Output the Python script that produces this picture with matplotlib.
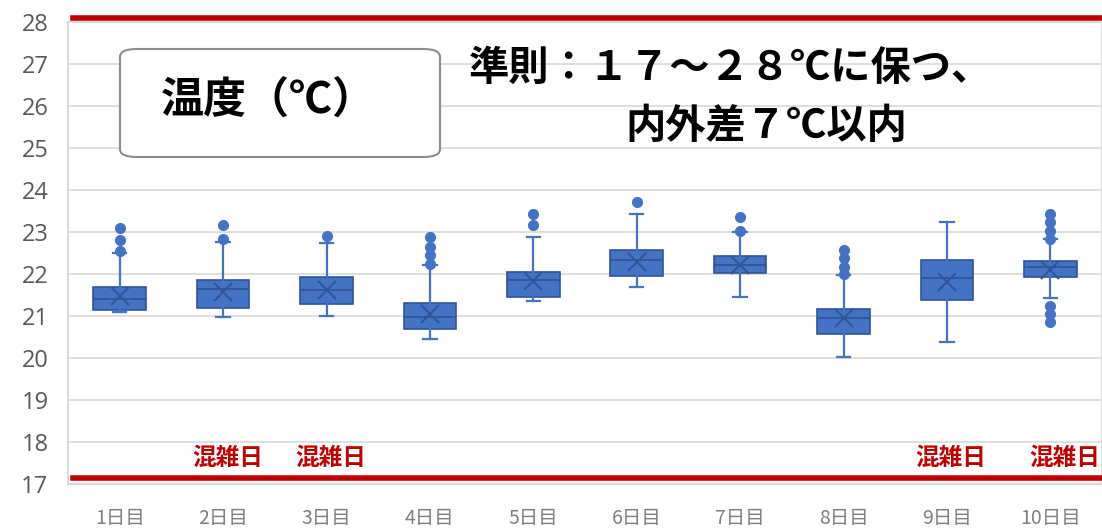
import matplotlib
matplotlib.use('Agg')
import matplotlib.pyplot as plt
from matplotlib.patches import FancyBboxPatch

plt.rcParams['font.family'] = ['Noto Sans CJK JP', 'DejaVu Sans']

# 日別の温度分布
days = ['1日目', '2日目', '3日目', '4日目', '5日目', '6日目', '7日目', '8日目', '9日目', '10日目']
q1 = [21.14, 21.20, 21.29, 20.68, 21.46, 21.95, 22.02, 20.56, 21.38, 21.92]
med = [21.40, 21.64, 21.62, 20.98, 21.86, 22.33, 22.21, 20.96, 21.90, 22.16]
q3 = [21.70, 21.86, 21.94, 21.30, 22.04, 22.57, 22.43, 21.17, 22.33, 22.31]
mean = [21.48, 21.58, 21.62, 21.04, 21.83, 22.29, 22.22, 20.95, 21.82, 22.10]
wlo = [21.09, 20.97, 21.00, 20.45, 21.36, 21.68, 21.45, 20.03, 20.39, 21.42]
whi = [22.49, 22.77, 22.75, 22.21, 22.87, 23.42, 23.01, 21.98, 23.23, 22.83]
fliers = [
    [22.55, 22.81, 23.09],
    [22.83, 23.17],
    [22.90],
    [22.25, 22.45, 22.64, 22.89],
    [23.17, 23.42],
    [23.72],
    [23.03, 23.36],
    [21.99, 22.17, 22.37, 22.57],
    [],
    [22.83, 23.03, 23.23, 23.42, 21.25, 21.05, 20.85],
]
busy_days = ['2日目', '3日目', '9日目', '10日目']
limit_low, limit_high = 17, 28

blue = '#4472C4'
edge = '#2F5597'
red = '#C00000'

fig = plt.figure(figsize=(11.02, 5.29), dpi=100)
ax = fig.add_axes([68 / 1102, 45 / 529, 1 - 68 / 1102, 462 / 529])

stats = []
for i, d in enumerate(days):
    stats.append({'label': d, 'q1': q1[i], 'med': med[i], 'q3': q3[i],
                  'mean': mean[i], 'whislo': wlo[i], 'whishi': whi[i],
                  'fliers': fliers[i]})

ax.bxp(stats, positions=range(1, len(days) + 1), widths=0.51,
       patch_artist=True, showmeans=True, capwidths=0.13,
       boxprops=dict(facecolor=blue, edgecolor=edge, linewidth=1.2),
       medianprops=dict(color=edge, linewidth=1.3),
       whiskerprops=dict(color=blue, linewidth=1.6),
       capprops=dict(color=blue, linewidth=1.6),
       meanprops=dict(marker='x', markeredgecolor=edge, markersize=13, markeredgewidth=1.4),
       flierprops=dict(marker='o', markerfacecolor=blue, markeredgecolor=blue, markersize=7))

# 基準線
ax.axhline(limit_high + 0.1, color=red, linewidth=4, xmin=0.005, zorder=5, clip_on=False)
ax.axhline(limit_low + 0.15, color=red, linewidth=4, xmin=0.005, zorder=5, clip_on=False)

ax.set_xlim(0.5, len(days) + 0.5)
ax.set_ylim(17, 28)
ax.set_yticks(range(17, 29))
ax.yaxis.grid(True, color='#D9D9D9', linewidth=1.2)
ax.set_axisbelow(True)
for s in ax.spines.values():
    s.set_color('#D9D9D9')
    s.set_linewidth(1.5)
ax.tick_params(axis='both', length=0)
ax.tick_params(axis='y', pad=14, labelsize=17, labelcolor='#595959')
ax.tick_params(axis='x', pad=17, labelsize=14, labelcolor='#7F7F7F')
for t in ax.get_yticklabels():
    t.set_family(['Open Sans', 'DejaVu Sans'])

# 混雑日ラベル
for d in busy_days:
    i = days.index(d) + 1
    ax.text(i + 0.04 + (0.1 if i == len(days) else 0), 17.63, '混雑日', color=red,
            fontsize=17, fontweight='bold', ha='center', va='center')

# 凡例ボックス
box = FancyBboxPatch((120 / 1102, 1 - 157 / 529), 320 / 1102, 108 / 529,
                     boxstyle='round,pad=0,rounding_size=0.015',
                     transform=fig.transFigure, facecolor='white',
                     edgecolor='#8C8C8C', linewidth=1.5)
fig.patches.append(box)
fig.text(268 / 1102, 1 - 100 / 529, '温度（℃）', fontsize=31, fontweight='bold',
         ha='center', va='center')

fig.text(731 / 1102, 1 - 68 / 529, '準則：１７～２８℃に保つ、', fontsize=29,
         fontweight='bold', ha='center', va='center')
fig.text(766 / 1102, 1 - 127 / 529, '内外差７℃以内', fontsize=29,
         fontweight='bold', ha='center', va='center')

fig.savefig('out.png', dpi=100)
